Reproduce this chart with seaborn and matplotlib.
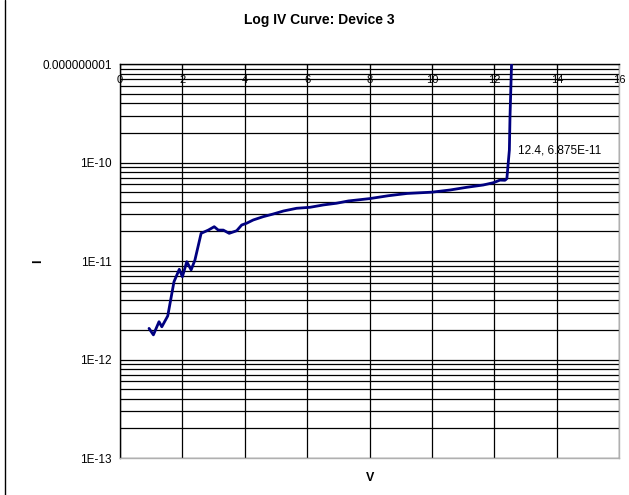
import matplotlib
matplotlib.use("Agg")
import matplotlib.pyplot as plt
from matplotlib.lines import Line2D
from matplotlib.ticker import FixedLocator, LogLocator, NullFormatter
import seaborn as sns
import pandas as pd

# voltage (V) and current (A)
volts = [0.93, 1.07, 1.25, 1.34, 1.53, 1.73, 1.90, 2.00, 2.14, 2.28, 2.40, 2.60,
         2.83, 3.02, 3.15, 3.31, 3.50, 3.74, 3.90, 4.06, 4.27, 4.59, 4.91, 5.24,
         5.66, 6.09, 6.52, 6.94, 7.32, 8.00, 8.60, 9.20, 10.0, 10.58, 11.11,
         11.64, 11.97, 12.18, 12.34, 12.40, 12.48, 12.50, 12.55, 12.60]
amps = [2.07e-12, 1.78e-12, 2.42e-12, 2.15e-12, 2.77e-12, 6.16e-12, 8.24e-12,
        6.93e-12, 9.84e-12, 8.13e-12, 1.02e-11, 1.91e-11, 2.06e-11, 2.23e-11,
        2.06e-11, 2.06e-11, 1.91e-11, 2.03e-11, 2.32e-11, 2.42e-11, 2.61e-11,
        2.82e-11, 3.00e-11, 3.22e-11, 3.43e-11, 3.51e-11, 3.71e-11, 3.86e-11,
        4.07e-11, 4.30e-11, 4.60e-11, 4.85e-11, 5.00e-11, 5.26e-11, 5.60e-11,
        5.91e-11, 6.24e-11, 6.63e-11, 6.60e-11, 6.875e-11, 1.34e-10, 2.90e-10,
        1.0e-9, 2.0e-9]

ytick_vals = [1e-9, 1e-10, 1e-11, 1e-12, 1e-13]
ytick_labels = ["0.000000001", "1E-10", "1E-11", "1E-12", "1E-13"]
xtick_vals = [0, 2, 4, 6, 8, 10, 12, 14, 16]

label_point = (12.4, 6.875e-11)

sns.set_style("white")
plt.rcParams["font.family"] = ["Liberation Sans", "DejaVu Sans"]
plt.rcParams["text.color"] = "black"
plt.rcParams["axes.labelcolor"] = "black"
plt.rcParams["xtick.color"] = "black"
plt.rcParams["ytick.color"] = "black"

df = pd.DataFrame({"V": volts, "I": amps})

fig = plt.figure(figsize=(6.29, 4.95), dpi=100)
ax = fig.add_axes([0.1908, 0.0747, 0.7936, 0.7960])

sns.lineplot(data=df, x="V", y="I", sort=False, estimator=None,
             color="#000080", linewidth=2.0, ax=ax, zorder=5)

ax.set_yscale("log")
ax.set_ylim(1e-13, 1e-9)
ax.set_xlim(0, 16)

ax.yaxis.set_major_locator(FixedLocator(ytick_vals))
ax.set_yticks(ytick_vals)
ax.set_yticklabels(ytick_labels)
ax.yaxis.set_minor_locator(LogLocator(base=10, subs=range(2, 10)))
ax.yaxis.set_minor_formatter(NullFormatter())

ax.set_xticks(xtick_vals)
ax.set_xticklabels([str(v) for v in xtick_vals])

ax.grid(True, which="major", axis="both", color="black", linewidth=0.9)
ax.grid(True, which="minor", axis="y", color="black", linewidth=0.9)

ax.tick_params(axis="y", which="major", direction="out", length=4,
               labelsize=8.5, pad=2)
ax.tick_params(axis="y", which="minor", length=0)
ax.tick_params(axis="x", which="major", top=True, bottom=False,
               labeltop=True, labelbottom=False, direction="in",
               length=3, labelsize=8, pad=-15)

for side in ["right", "bottom"]:
    ax.spines[side].set_color("#b0b0b0")
for side in ["left", "top"]:
    ax.spines[side].set_color("black")
for sp in ax.spines.values():
    sp.set_linewidth(1.0)

ax.set_xlabel("V", fontsize=9, fontweight="bold", labelpad=10)
ax.set_ylabel("I", fontsize=9, fontweight="bold")
ax.yaxis.set_label_coords(-0.152, 0.5)
ax.set_title("Log IV Curve: Device 3", fontsize=10, fontweight="bold",
             pad=29, x=0.40)

ax.annotate(f"{label_point[0]}, 6.875E-11", xy=label_point, xytext=(8, 20),
            textcoords="offset points", fontsize=8.5, va="center", ha="left")

fig.add_artist(Line2D([0.008, 0.008], [0.0, 1.0], color="black", linewidth=1.0,
                      transform=fig.transFigure))

fig.savefig("out.png", dpi=100, facecolor="white")
